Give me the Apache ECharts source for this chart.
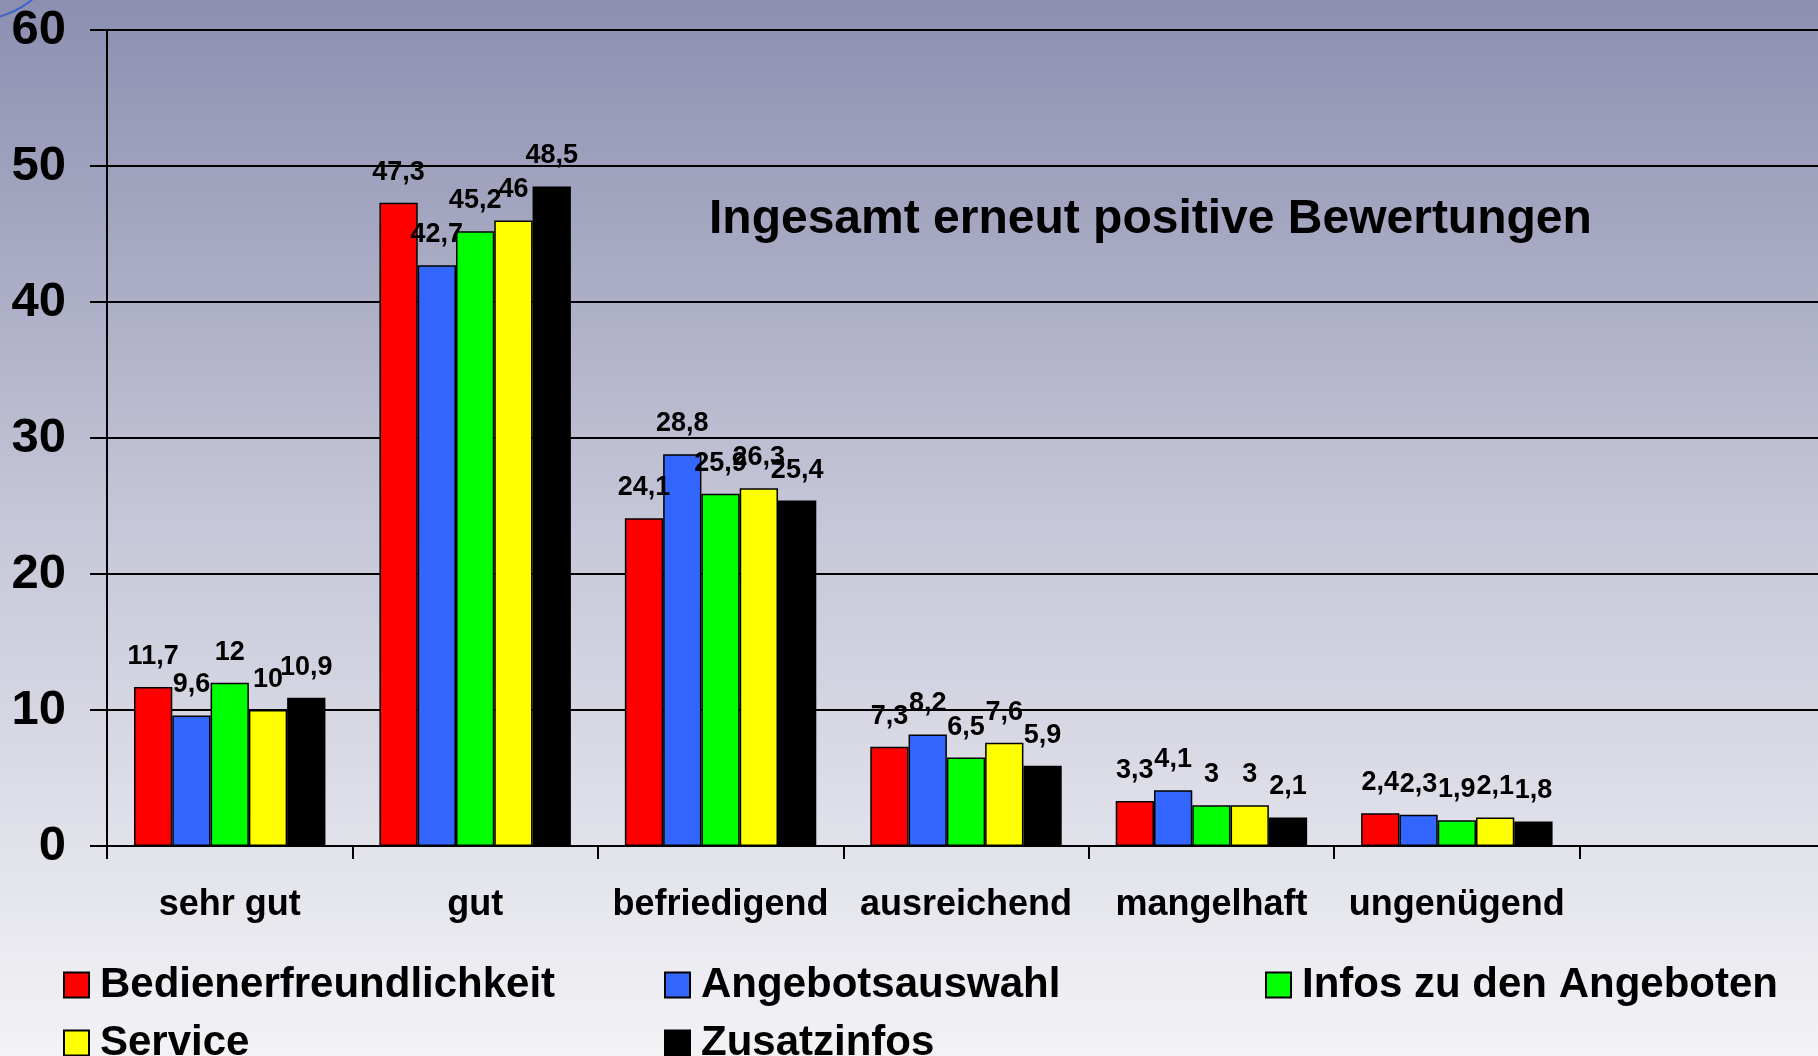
<!DOCTYPE html>
<html>
<head>
<meta charset="utf-8">
<script src="https://cdn.jsdelivr.net/npm/echarts@6/dist/echarts.min.js"></script>
<style>
html,body{margin:0;padding:0;}
#chart{width:1818px;height:1056px;}
</style>
</head>
<body>
<div id="chart"></div>
<script>
// Kategorien (letzter Slot ist leer)
var categories = ['sehr gut', 'gut', 'befriedigend', 'ausreichend', 'mangelhaft', 'ungenügend', ''];
var yTicks = [0, 10, 20, 30, 40, 50, 60];

var bedienerfreundlichkeit = [11.7, 47.3, 24.1, 7.3, 3.3, 2.4, null];
var angebotsauswahl = [9.6, 42.7, 28.8, 8.2, 4.1, 2.3, null];
var infosAngebote = [12, 45.2, 25.9, 6.5, 3, 1.9, null];
var service = [10, 46, 26.3, 7.6, 3, 2.1, null];
var zusatzinfos = [10.9, 48.5, 25.4, 5.9, 2.1, 1.8, null];

var font = 'Liberation Sans, Arial, sans-serif';

function bar(name, data, color) {
    return {
        name: name,
        type: 'bar',
        data: data,
        barGap: '0%',
        barCategoryGap: '22%',
        itemStyle: {color: color, borderColor: '#000', borderWidth: 1.5},
        label: {
            show: true,
            position: 'top',
            distance: 17,
            color: '#000',
            fontFamily: font,
            fontWeight: 'bold',
            fontSize: 27,
            formatter: function (p) { return String(p.value).replace('.', ','); }
        }
    };
}

var myChart = echarts.init(document.getElementById('chart'));
myChart.setOption({
    backgroundColor: {
        type: 'linear', x: 0, y: 0, x2: 0, y2: 1,
        colorStops: [
            {offset: 0, color: '#8c8fb0'},
            {offset: 0.5, color: '#c6c7d8'},
            {offset: 1, color: '#f3f3f6'}
        ]
    },
    animation: false,
    graphic: [{
        type: 'circle',
        shape: {cx: -25, cy: -70, r: 90},
        style: {fill: 'none', stroke: '#3a63c8', lineWidth: 2}
    }],
    title: {
        text: 'Ingesamt erneut positive Bewertungen',
        left: 704,
        top: 187,
        textStyle: {fontFamily: font, fontWeight: 'bold', fontSize: 48, lineHeight: 56, color: '#000'}
    },
    grid: {left: 107, right: -7, top: 30, bottom: 210, containLabel: false, outerBoundsMode: 'none'},
    legend: {
        left: 58,
        top: 951,
        width: 1810,
        itemWidth: 25,
        itemHeight: 25,
        itemGap: 0,
        icon: 'rect',
        textStyle: {
            fontFamily: font, fontWeight: 'bold', fontSize: 42, color: '#000',
            width: 564, lineHeight: 58, padding: [0, 0, 0, 6]
        }
    },
    xAxis: {
        type: 'category',
        data: categories,
        axisLine: {lineStyle: {color: '#000', width: 2}},
        axisTick: {show: true, length: 13, lineStyle: {color: '#000', width: 2}},
        axisLabel: {
            interval: 0, margin: 41, color: '#000',
            fontFamily: font, fontWeight: 'bold', fontSize: 36
        }
    },
    yAxis: {
        type: 'value',
        min: yTicks[0],
        max: yTicks[yTicks.length - 1],
        interval: 10,
        axisLine: {show: true, lineStyle: {color: '#000', width: 2}},
        axisTick: {show: true, length: 17, lineStyle: {color: '#000', width: 2}},
        splitLine: {lineStyle: {color: '#000', width: 2}},
        axisLabel: {margin: 41, color: '#000', fontFamily: font, fontWeight: 'bold', fontSize: 49}
    },
    series: [
        bar('Bedienerfreundlichkeit', bedienerfreundlichkeit, '#ff0000'),
        bar('Angebotsauswahl', angebotsauswahl, '#3366ff'),
        bar('Infos zu den Angeboten', infosAngebote, '#00ff00'),
        bar('Service', service, '#ffff00'),
        bar('Zusatzinfos', zusatzinfos, '#000000')
    ]
});
</script>
</body>
</html>
